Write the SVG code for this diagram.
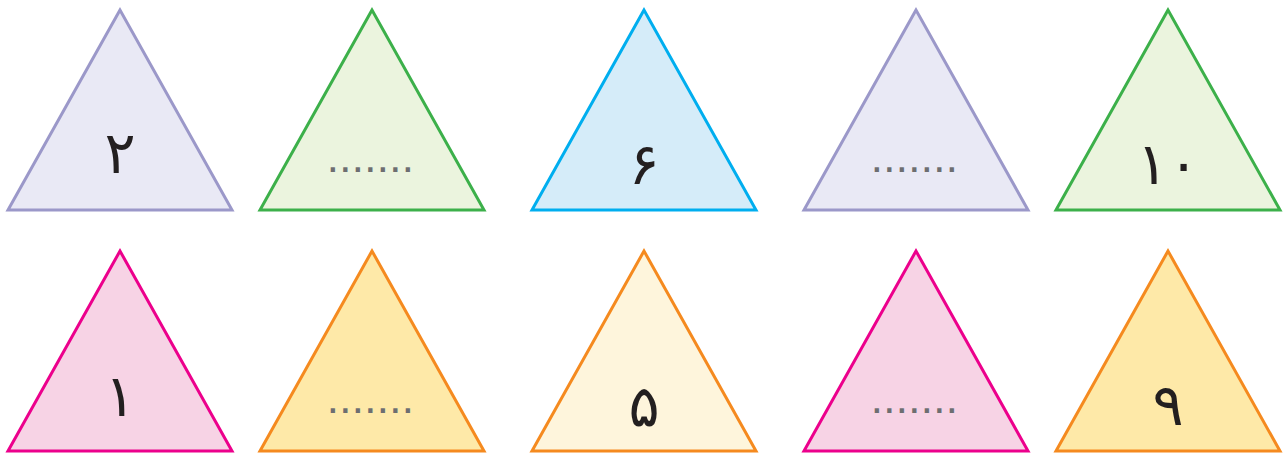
<svg xmlns="http://www.w3.org/2000/svg" width="1284" height="453" viewBox="0 0 1284 453">
<style>
.t{stroke-width:3;stroke-linejoin:miter}
.pu{fill:#e9e9f5;stroke:#9b98c9}
.gr{fill:#ebf4de;stroke:#3cb04a}
.bl{fill:#d5ecf9;stroke:#00aeef}
.pk{fill:#f7d3e5;stroke:#ec008c}
.or{fill:#fee9a8;stroke:#f58a1f}
.ol{fill:#fef5dc;stroke:#f58a1f}
.n{font-family:"DejaVu Sans",sans-serif;font-weight:normal;font-size:58px;fill:#231f20;text-anchor:middle}
.d{font-family:"DejaVu Sans",sans-serif;font-weight:bold;font-size:24px;fill:#6d6e71;text-anchor:middle;letter-spacing:3.4px}
</style>
<g id="t1"><polygon class="t pu" points="120,10 8,210 232,210"/><text class="n" x="120" y="173">۲</text></g>
<g id="t2"><polygon class="t gr" points="372,10 260,210 484,210"/><text class="d" x="372" y="172">.......</text></g>
<g id="t3"><polygon class="t bl" points="644,10 532,210 756,210"/><text class="n" x="644" y="184">۶</text></g>
<g id="t4"><polygon class="t pu" points="916,10 804,210 1028,210"/><text class="d" x="916" y="172">.......</text></g>
<g id="t5"><polygon class="t gr" points="1168,10 1056,210 1280,210"/><text class="n" x="1168" y="184" letter-spacing="10">۱۰</text></g>
<g id="b1"><polygon class="t pk" points="120,251 8,451 232,451"/><text class="n" x="120" y="416">۱</text></g>
<g id="b2"><polygon class="t or" points="372,251 260,451 484,451"/><text class="d" x="372" y="413">.......</text></g>
<g id="b3"><polygon class="t ol" points="644,251 532,451 756,451"/><text class="n" x="644" y="426">۵</text></g>
<g id="b4"><polygon class="t pk" points="916,251 804,451 1028,451"/><text class="d" x="916" y="413">.......</text></g>
<g id="b5"><polygon class="t or" points="1168,251 1056,451 1280,451"/><text class="n" x="1168" y="425">۹</text></g>
</svg>
